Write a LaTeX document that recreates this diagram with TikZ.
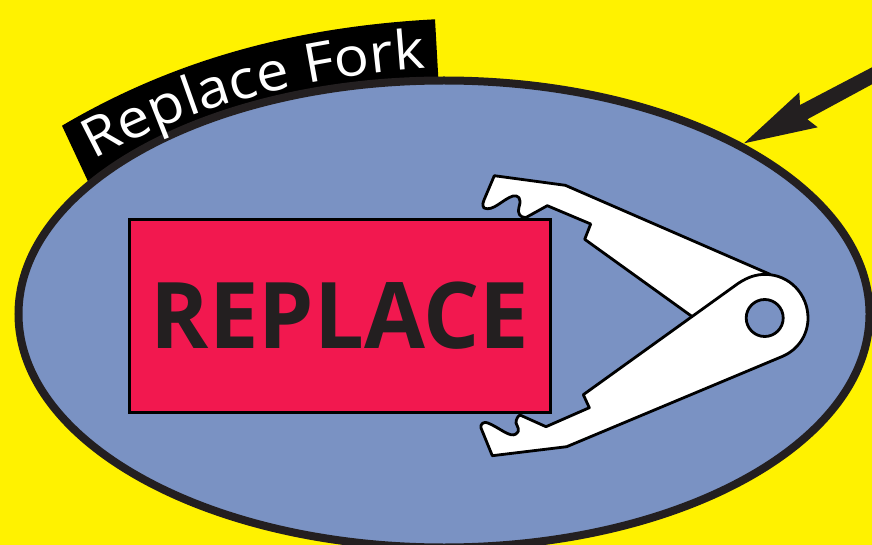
\documentclass[tikz,border=0pt]{standalone}
\usepackage{fontspec}
\usetikzlibrary{positioning, shapes.geometric, decorations.text}
\newfontfamily\bannerfont[FakeStretch=1.08]{Open Sans}
\newfontfamily\replacefont[FakeStretch=0.96]{Open Sans}
\definecolor{signyellow}{HTML}{FFF200}
\definecolor{ovalblue}{HTML}{7A92C3}
\definecolor{boxred}{HTML}{F2184F}
\definecolor{inkdark}{HTML}{231F20}

\begin{document}
\begin{tikzpicture}[
                x=1pt, y=-1pt,
                oval/.style={draw=inkdark, line width=8pt, ellipse, fill=ovalblue, minimum width=851pt, minimum height=467pt, inner sep=0pt},
                replacebox/.style={draw=black, line width=2.8pt, rectangle, fill=boxred, minimum width=421pt, minimum height=193pt, inner sep=0pt, text=inkdark, font={\replacefont\bfseries\fontsize{92}{92}\selectfont}},
                forkarm/.style={draw=black, line width=2.8pt, fill=white, line join=round},
                pinhole/.style={draw=black, line width=2.8pt, circle, fill=ovalblue, minimum size=37pt, inner sep=0pt},
                pointer/.style={fill=inkdark, draw=none}
            ]

            % Hintergrund
            \useasboundingbox (0,0) rectangle (872,545);
            \clip (0,0) rectangle (872,545);
            \fill[signyellow] (0,0) rectangle (872,545);

            % Banner
            \fill[black] (62,125.7) .. controls (170,62) and (290,27) .. (435,19.3) -- (439,90) -- (92,190) -- cycle;

            % Knoten
            \node[oval] (face) at (444,314) {};
            \node[replacebox] (plate) at (340,316) {REPLACE};

            % Text
            \path[decorate, decoration={text along path, text align=center, text={|\bannerfont\fontsize{54}{54}\selectfont\color{white}|Replace Fork}}]
                (92,161) .. controls (192,106) and (307,76) .. (428,68.5);

            % Gabel
            \draw[forkarm] (494.3,175.7) -- (565.3,185.3) -- (770,274.3) -- (692.3,316.7) -- (584.7,239.3) -- (590.7,224) -- (547.3,205.7) -- (526,217.5)
                .. controls (520,218) and (517,213) .. (519,207) .. controls (522,198) and (518,195) .. (513,196)
                .. controls (503,199) and (493,212) .. (484,208) .. controls (482,205) and (483,202) .. (484,200) -- cycle;
            \draw[forkarm] (765,274.4) .. controls (790,274.4) and (808,295) .. (808,318) .. controls (808,335) and (798,350) .. (781.7,356.7)
                -- (566.7,446.7) -- (492.3,455.7) -- (481,428) .. controls (480,424) and (484,421) .. (488,423)
                .. controls (500,428) and (510,438) .. (516,434) .. controls (521,431) and (517,426) .. (516,423)
                .. controls (516,419) and (518,416) .. (520,415) -- (546,426.7) -- (589.3,407.7) -- (583.3,394.7) -- (738.3,283.3)
                .. controls (748,277) and (756,274.4) .. (765,274.4) -- cycle;
            \node[pinhole] (pin) at (764.7,318) {};

            % Pfeil
            \fill[pointer] (744,143.3) -- (799.3,92.3) -- (800,105) -- (872,67.3) -- (872,84.3) -- (807.3,119.3) -- (817.7,127.3) -- cycle;

        \end{tikzpicture}
\end{document}
